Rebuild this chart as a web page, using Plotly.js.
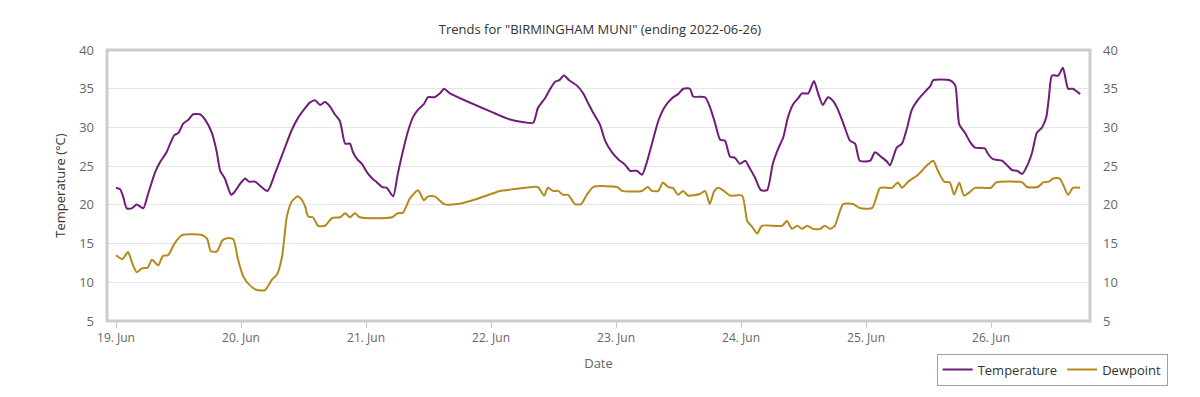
<!DOCTYPE html>
<html>
<head>
<meta charset="utf-8">
<script src="https://cdn.plot.ly/plotly-3.0.1.min.js"></script>
<style>html,body{margin:0;padding:0;background:#fff;}#chart{width:1200px;height:397px;}</style>
</head>
<body>
<div id="chart"></div>
<script>
// Hours since 2022-06-19 00:00 (local station time) and readings in °C
const tempHours = [0,0.8,1.4,2.05,3.0,3.97,4.6,5.25,6.2,7.5,8.45,9.7,10.4,11.2,12.0,12.9,13.9,14.8,16.1,17.1,18.4,19.3,20.0,20.9,22.1,22.8,23.8,24.8,25.5,26.7,27.6,29.1,30.5,32.1,33.7,35.0,36.3,37.2,38.2,39.2,40.1,41.1,42.0,43.0,44.0,44.9,45.5,46.3,47.2,48.2,49.2,50.1,51.1,52.0,53.2,54.1,55.1,56.1,57.0,58.0,59.1,59.9,61.2,62.2,63.0,64.1,72.8,75.3,78.0,80.1,81.0,82.4,83.3,84.3,85.1,86.0,87.0,88.5,89.7,90.6,91.6,92.9,93.9,95.2,96.4,97.7,98.7,100.0,101.0,102.0,102.9,104.1,105.4,106.8,107.9,108.9,110.2,110.8,113.1,114.0,115.0,116.0,116.9,117.9,118.8,119.8,120.8,121.7,122.7,123.8,125.0,126.1,127.1,128.1,129.0,130.0,131.0,131.7,132.9,134.0,134.8,135.7,136.7,137.7,138.6,139.6,140.9,141.9,142.8,144.8,145.7,147.1,148.0,148.6,149.9,150.9,151.9,152.8,154.0,155.3,156.3,156.9,160.1,161.1,161.9,163.0,164.0,164.9,166.8,167.4,168.4,170.1,171.1,172.0,173.0,174.0,175.1,175.9,176.8,177.8,178.6,179.1,179.7,180.9,181.8,182.8,183.7,185.1];
const tempValues = [22.2,22.0,21.0,19.55,19.55,20.05,19.8,19.55,21.5,24.2,25.5,26.8,27.9,29.0,29.3,30.5,31.0,31.7,31.7,31.0,29.3,27.0,24.4,23.4,21.3,21.7,22.7,23.4,23.0,23.0,22.5,21.8,24.0,26.8,29.6,31.3,32.5,33.2,33.5,32.9,33.3,32.7,31.7,30.8,27.9,27.9,26.8,25.9,25.3,24.2,23.4,22.9,22.3,22.2,21.1,24.0,27.0,29.6,31.3,32.3,33.0,33.9,33.9,34.4,35.0,34.4,31.8,31.1,30.7,30.6,32.5,33.8,34.9,35.9,36.1,36.7,36.1,35.4,34.4,33.2,31.9,30.4,28.3,26.8,25.9,25.2,24.4,24.4,23.9,25.7,27.9,30.8,32.7,33.8,34.3,35.0,35.0,34.0,33.9,32.7,30.6,28.4,28.3,26.2,26.1,25.3,25.7,24.7,23.5,21.9,21.9,25.3,27.2,28.7,31.3,33.0,33.8,34.4,34.4,36.0,34.4,32.9,33.9,33.4,32.3,30.6,28.3,27.9,25.7,25.7,26.8,26.1,25.6,25.1,27.4,27.9,30.0,32.3,33.6,34.6,35.3,36.1,36.1,35.5,30.4,29.3,28.1,27.4,27.3,26.6,25.9,25.7,25.1,24.5,24.4,24.0,25.3,26.8,29.3,30.0,31.3,33.8,36.7,36.7,37.7,35.0,35.0,34.3];

const dewHours = [0,1.2,2.3,3.1,4.0,5.0,6.1,6.9,8.1,9.0,10.0,11.3,12.7,16.5,17.5,18.2,19.4,20.4,21.3,22.5,23.4,24.4,25.7,27.1,28.6,30.0,30.9,31.9,32.8,33.8,34.9,35.5,36.3,36.9,37.8,38.8,40.1,41.5,43.0,44.0,44.9,45.9,46.8,53.0,54.0,55.1,56.4,58.0,59.1,59.9,61.2,63.0,65.5,68.5,71.2,73.7,76.0,78.5,81.0,82.2,82.9,83.9,84.9,85.8,86.8,88.1,89.3,90.4,91.6,96.2,97.2,101.0,102.1,102.9,104.1,105.0,106.0,106.9,107.9,108.9,109.8,112.1,113.1,114.0,114.8,115.6,116.5,117.9,120.2,121.2,122.1,123.1,124.0,127.9,128.8,129.8,130.8,131.7,132.7,133.8,135.2,136.1,137.1,138.0,139.6,141.5,142.8,145.2,146.7,149.0,150.1,150.9,152.1,154.0,155.7,156.9,157.8,159.0,160.1,160.9,161.9,162.8,164.0,164.9,168.0,169.0,174.0,174.9,177.0,178.0,179.1,179.9,181.2,182.8,183.7,185.1];
const dewValues = [13.5,13.0,13.9,12.5,11.3,11.8,11.9,12.9,12.2,13.4,13.5,15.1,16.1,16.1,15.6,14.0,14.0,15.4,15.7,15.6,13.0,10.8,9.6,9.0,9.0,10.4,11.0,13.4,18.5,20.5,21.1,20.8,19.8,18.5,18.4,17.3,17.3,18.3,18.4,18.9,18.4,18.9,18.4,18.4,18.9,19.0,20.8,21.9,20.6,21.1,21.1,20.1,20.1,20.6,21.2,21.8,22.0,22.2,22.3,21.2,22.2,21.8,21.8,21.3,21.3,20.1,20.1,21.3,22.3,22.3,21.8,21.8,22.3,21.8,21.8,22.9,22.3,22.2,21.3,21.8,21.2,21.4,21.8,20.1,21.7,22.2,21.9,21.2,21.2,17.9,17.2,16.3,17.3,17.3,17.9,16.9,17.3,16.9,17.3,16.9,16.9,17.3,16.9,17.3,20.1,20.1,19.6,19.6,22.2,22.2,22.9,22.2,23.0,23.9,25.1,25.7,24.4,23.0,22.9,21.3,22.9,21.2,21.7,22.2,22.2,22.9,22.9,22.3,22.3,22.9,23.0,23.4,23.4,21.3,22.2,22.2];

const seriesNames = ["Temperature", "Dewpoint"];
const chartTitle = 'Trends for "BIRMINGHAM MUNI" (ending 2022-06-26)';
const yTitle = "Temperature (°C)";
const xTitle = "Date";

const startMs = Date.UTC(2022, 5, 19, 0, 0, 0);
function toMs(h) { return startMs + h * 3600000; }

const purple = "#6e1e78";
const gold = "#b5891c";
const font = "'Open Sans', 'Noto Sans', sans-serif";

const traces = [
  {x: tempHours.map(toMs), y: tempValues, name: seriesNames[0], type: "scatter", mode: "lines",
   line: {color: purple, width: 2, shape: "spline", smoothing: 0.6}, hoverinfo: "x+y"},
  {x: dewHours.map(toMs), y: dewValues, name: seriesNames[1], type: "scatter", mode: "lines",
   line: {color: gold, width: 2, shape: "spline", smoothing: 0.6}, hoverinfo: "x+y"},
  {x: tempHours.map(toMs), y: tempValues, yaxis: "y2", type: "scatter", mode: "lines",
   line: {color: "rgba(0,0,0,0)", width: 0}, showlegend: false, hoverinfo: "skip"}
];

const layout = {
  width: 1200, height: 397,
  margin: {l: 107, r: 110, t: 50, b: 74},
  paper_bgcolor: "#ffffff", plot_bgcolor: "#ffffff",
  font: {family: font, size: 12, color: "#666666"},
  title: {text: chartTitle, x: 0.5, xanchor: "center", y: 0.925, yanchor: "middle",
          font: {family: font, size: 13, color: "#333333"}},
  xaxis: {
    type: "date", automargin: false,
    range: [toMs(-1.73), toMs(187.0)],
    tick0: startMs, dtick: 86400000, tickformat: "%d. %b",
    ticks: "outside", ticklen: 6, tickcolor: "#c0c8d8", tickwidth: 1,
    showgrid: false, zeroline: false, showline: false,
    tickfont: {family: font, size: 12, color: "#666666"},
    title: {text: xTitle, font: {family: font, size: 13, color: "#666666"}, standoff: 13}
  },
  yaxis: {
    range: [5, 40], dtick: 5, tick0: 5, automargin: false,
    showgrid: true, gridcolor: "#e6e6e6", gridwidth: 1, zeroline: false, showline: false,
    ticks: "", ticklabelstandoff: 12,
    tickfont: {family: font, size: 13, color: "#666666"},
    title: {text: yTitle, font: {family: font, size: 13, color: "#333333"}, standoff: 10}
  },
  yaxis2: {
    overlaying: "y", side: "right", range: [5, 40], dtick: 5, tick0: 5, automargin: false,
    showgrid: false, zeroline: false, showline: false, ticks: "", ticklabelstandoff: 12,
    tickfont: {family: font, size: 13, color: "#666666"}
  },
  showlegend: true,
  legend: {
    orientation: "h", x: 0.844, xanchor: "left", y: -0.12, yanchor: "top",
    bordercolor: "#a0a0a0", borderwidth: 1, bgcolor: "#ffffff",
    font: {family: font, size: 13, color: "#333333"},
    itemwidth: 30
  },
  shapes: [{
    type: "rect", xref: "paper", yref: "paper", x0: 0, x1: 1, y0: 0, y1: 1,
    line: {color: "#cccccc", width: 3}, layer: "above"
  }],
  hovermode: "x"
};

Plotly.newPlot("chart", traces, layout, {displayModeBar: false, staticPlot: true});
</script>
</body>
</html>
